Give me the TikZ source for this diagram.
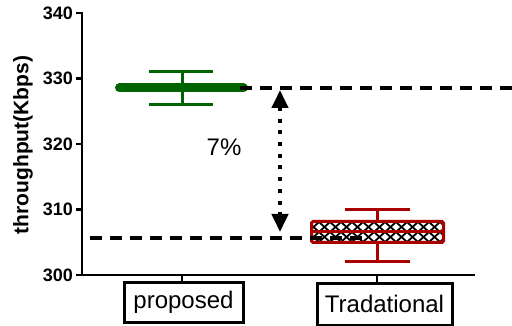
\documentclass[tikz,border=0pt]{standalone}
\usepackage{fontspec}
\setmainfont{Liberation Sans}
\usetikzlibrary{arrows.meta}
\definecolor{darkgreen}{RGB}{0,100,0}
\definecolor{darkred}{RGB}{170,0,0}
\tikzset{
  axis/.style={line width=2.5pt},
  guide/.style={line width=3.5pt, dash pattern=on 12pt off 8pt},
  ticklabel/.style={anchor=east, font=\bfseries\fontsize{18}{18}\selectfont, inner sep=0pt},
  catbox/.style={draw, line width=3pt, inner sep=0pt, font=\fontsize{24}{24}\selectfont},
  whisker/.style={line width=3pt},
  hatch/.style={line width=1.8pt},
  gaptip/.tip={Triangle[length=18pt,width=16pt]}
}
\begin{document}
\begin{tikzpicture}[x=1pt, y=-1pt]
  \useasboundingbox (0,0) rectangle (512,326);
  \draw[axis] (76,13) -- (82,13) -- (82,275) -- (475,275);
  \draw[axis] (76,78.5) -- (82,78.5);
  \draw[axis] (76,144) -- (82,144);
  \draw[axis] (76,209.5) -- (82,209.5);
  \draw[axis] (76,275) -- (82,275);
  \draw[axis] (182,275) -- (182,282);
  \draw[axis] (377,275) -- (377,282);
  \node[ticklabel] (t340) at (73,13) {340};
  \node[ticklabel] (t330) at (73,78.5) {330};
  \node[ticklabel] (t320) at (73,144) {320};
  \node[ticklabel] (t310) at (73,209.5) {310};
  \node[ticklabel] (t300) at (73,275) {300};
  \node[rotate=90, font=\bfseries\fontsize{21}{21}\selectfont] (ylabel) at (23,145) {throughput(Kbps)};
  \node[catbox, minimum width=119pt, minimum height=40pt] (proposed) at (183.5,302) {proposed};
  \node[catbox, minimum width=135pt, minimum height=42pt] (trad) at (384.5,304) {Tradational};
  % proposed
  \draw[whisker, darkgreen] (149,72) -- (213,72);
  \draw[whisker, darkgreen] (149,104.5) -- (213,104.5);
  \draw[whisker, darkgreen] (182,72) -- (182,104.5);
  \draw[darkgreen, line width=9pt, line cap=round] (119.5,88) -- (243.5,88);
  % tradational
  \draw[whisker, darkred] (345,209.5) -- (410,209.5);
  \draw[whisker, darkred] (345,262) -- (410,262);
  \draw[whisker, darkred] (377.5,209.5) -- (377.5,262);
  \fill[white] (311.5,221.5) rectangle (443.5,242.5);
  \begin{scope}
    \clip (311.5,221.5) rectangle (443.5,242.5);
    \foreach \x in {308,319,...,440} {
      \draw[hatch] (\x,222) -- (\x+11,232) (\x+11,222) -- (\x,232);
      \draw[hatch] (\x,232) -- (\x+11,242) (\x+11,232) -- (\x,242);
    }
  \end{scope}
  \draw[whisker, darkred, rounded corners=1.5pt] (311.5,221.5) rectangle (443.5,242.5);
  \draw[whisker, darkred] (313,232) -- (442,232);
  % guides
  \coordinate (hiL) at (240,88);
  \coordinate (hiR) at (512,88);
  \coordinate (loL) at (90,238);
  \coordinate (loR) at (362,238);
  \draw[guide] (hiL) -- (hiR);
  \draw[guide] (loL) -- (loR);
  \coordinate (hiA) at (280,88);
  \coordinate (loA) at (280,238);
  \draw[line width=4pt, dash pattern=on 4pt off 7.7pt, gaptip-gaptip, shorten <=2pt, shorten >=6pt] (hiA) -- (loA);
  \node[font=\fontsize{24}{24}\selectfont] (gap) at (224,147) {7\%};
\end{tikzpicture}
\end{document}
